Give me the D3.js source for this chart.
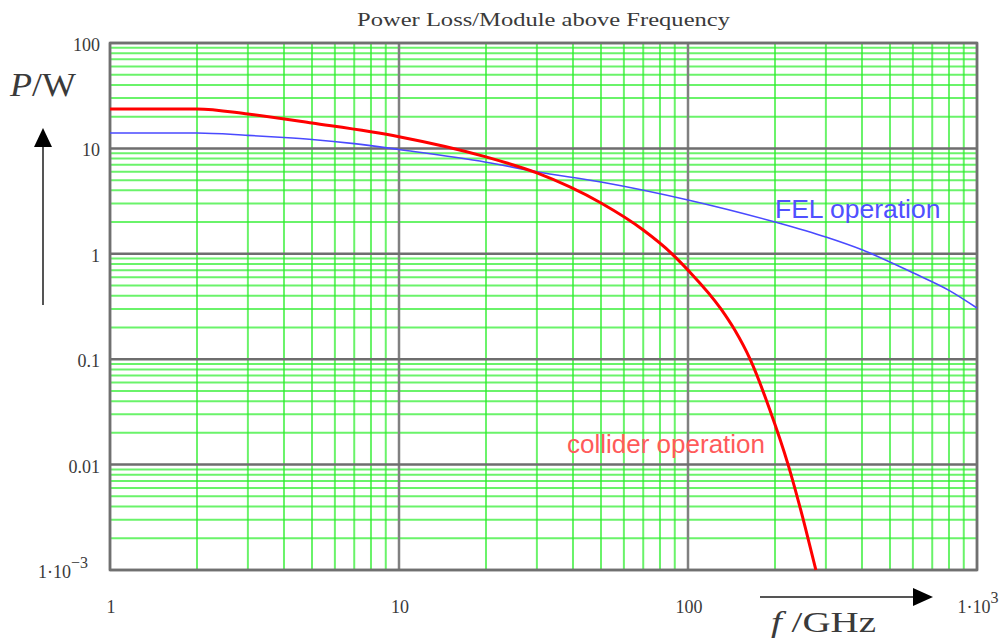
<!DOCTYPE html>
<html>
<head>
<meta charset="utf-8">
<script src="https://cdn.jsdelivr.net/npm/d3@7"></script>
<style>
	body { margin: 0; background: #fff; }
	svg { display: block; }
	.serif { font-family: 'Liberation Serif', 'DejaVu Serif', serif; fill: #3a3a3a; }
	.sans { font-family: 'Liberation Sans', Arial, sans-serif; }
</style>
</head>
<body>
<svg id="chart" width="1002" height="644"></svg>
<script>
//Data--------------------------------------------------------------------
var freqFel = [1, 2, 3, 4, 5, 7, 10, 20, 30, 50, 100, 200, 300, 400, 600, 800, 1000];
var powerFel = [14.0, 14.0, 13.3, 12.7, 12.15, 11.1, 9.75, 7.4, 6.0, 4.8, 3.24, 2.0, 1.44, 1.09, 0.66, 0.45, 0.306];

var freqCollider = [1, 2, 3, 5, 10, 20, 30, 50, 70, 88, 100, 130, 145, 164, 192, 222, 254, 277];
var powerCollider = [23.7, 23.7, 21.2, 17.4, 12.9, 8.3, 5.85, 3.03, 1.68, 1.0, 0.70, 0.30, 0.19, 0.1, 0.033, 0.01, 0.0026, 0.001];

var yTicks = [100, 10, 1, 0.1, 0.01, 0.001];
var yTickLabels = ['100', '10', '1', '0.1', '0.01', ['1\u00b710', '\u22123']];
var xTicks = [1, 10, 100, 1000];
var xTickLabels = ['1', '10', '100', ['1\u00b710', '3']];

//Layout------------------------------------------------------------------
var svg = d3.select('#chart');
var plotLeft = 110, plotRight = 977, plotTop = 43, plotBottom = 570;

var x = d3.scaleLog().domain([1, 1000]).range([plotLeft, plotRight]);
var y = d3.scaleLog().domain([0.001, 100]).range([plotBottom, plotTop]);

var grid = svg.append('g').classed('grid', true);

//minor green grid lines
grid.selectAll('line.vminor')
	.data(x.ticks().filter(function (d) { return xTicks.indexOf(d) < 0; }))
	.enter().append('line')
	.attr('x1', function (d) { return x(d); })
	.attr('x2', function (d) { return x(d); })
	.attr('y1', plotTop).attr('y2', plotBottom)
	.style('stroke', '#2bee2b').style('stroke-width', 2).style('stroke-opacity', 0.7);

grid.selectAll('line.hminor')
	.data(y.ticks().filter(function (d) {
		return !yTicks.some(function (t) { return Math.abs(t - d) / t < 1e-6; });
	}))
	.enter().append('line')
	.attr('x1', plotLeft).attr('x2', plotRight)
	.attr('y1', function (d) { return y(d); })
	.attr('y2', function (d) { return y(d); })
	.style('stroke', '#2bee2b').style('stroke-width', 2).style('stroke-opacity', 0.7);

//major gray lines
grid.selectAll('line.vmajor')
	.data(xTicks)
	.enter().append('line')
	.attr('x1', function (d) { return x(d); })
	.attr('x2', function (d) { return x(d); })
	.attr('y1', plotTop).attr('y2', plotBottom)
	.style('stroke', '#808080').style('stroke-width', 2.5);

grid.selectAll('line.hmajor')
	.data(yTicks)
	.enter().append('line')
	.attr('x1', plotLeft).attr('x2', plotRight)
	.attr('y1', function (d) { return y(d); })
	.attr('y2', function (d) { return y(d); })
	.style('stroke', '#6e6e6e').style('stroke-width', 2.5);

svg.append('rect')
	.attr('x', plotLeft).attr('y', plotTop)
	.attr('width', plotRight - plotLeft).attr('height', plotBottom - plotTop)
	.style('fill', 'none').style('stroke', '#707070').style('stroke-width', 2.5);

//curves
var line = d3.line()
	.x(function (d) { return x(d[0]); })
	.y(function (d) { return y(d[1]); })
	.curve(d3.curveMonotoneX);

svg.append('path')
	.datum(d3.zip(freqFel, powerFel))
	.attr('d', line)
	.style('fill', 'none').style('stroke', '#4a4aff').style('stroke-width', 1.6);

svg.append('path')
	.datum(d3.zip(freqCollider, powerCollider))
	.attr('d', line)
	.style('fill', 'none').style('stroke', '#ff0000').style('stroke-width', 3);

//tick labels
function label(sel, d) {
	if (typeof d === 'string') {
		sel.text(d);
	} else {
		sel.append('tspan').text(d[0]);
		sel.append('tspan').attr('dy', -10).style('font-size', '16px').text(d[1]);
	}
}

yTicks.forEach(function (t, i) {
	var lab = yTickLabels[i];
	var txt = svg.append('text').classed('serif', true)
		.attr('x', typeof lab === 'string' ? 100 : 88)
		.attr('y', y(t) + 8)
		.attr('text-anchor', 'end')
		.style('font-size', '18px');
	label(txt, lab);
});

xTicks.forEach(function (t, i) {
	var txt = svg.append('text').classed('serif', true)
		.attr('x', x(t) + 1).attr('y', 613)
		.attr('text-anchor', 'middle')
		.style('font-size', '18px');
	label(txt, xTickLabels[i]);
});

//title
svg.append('text').classed('serif', true)
	.attr('x', 357).attr('y', 26)
	.attr('textLength', 373).attr('lengthAdjust', 'spacingAndGlyphs')
	.style('font-size', '19px')
	.text('Power Loss/Module above Frequency');

//axis names with arrows
var pw = svg.append('text').classed('serif', true)
	.attr('x', 10).attr('y', 96)
	.attr('textLength', 66).attr('lengthAdjust', 'spacingAndGlyphs')
	.style('font-size', '34px');
pw.append('tspan').style('font-style', 'italic').text('P');
pw.append('tspan').text('/W');

var fg = svg.append('text').classed('serif', true)
	.attr('x', 771).attr('y', 632)
	.attr('textLength', 105).attr('lengthAdjust', 'spacingAndGlyphs')
	.style('font-size', '29px');
fg.append('tspan').style('font-style', 'italic').text('f');
fg.append('tspan').text(' /GHz');

svg.append('line')
	.attr('x1', 43).attr('y1', 305).attr('x2', 43).attr('y2', 142)
	.style('stroke', '#555').style('stroke-width', 2);
svg.append('polygon')
	.attr('points', [34, 147, 52, 147, 43, 128])
	.style('fill', '#000');

svg.append('line')
	.attr('x1', 760).attr('y1', 597).attr('x2', 918).attr('y2', 597)
	.style('stroke', '#555').style('stroke-width', 2);
svg.append('polygon')
	.attr('points', [913, 588, 913, 606, 933, 597])
	.style('fill', '#000');

//series labels
svg.append('text').classed('sans', true)
	.attr('x', 775).attr('y', 218)
	.style('font-size', '26.5px').style('fill', '#5050ff')
	.text('FEL operation');

svg.append('text').classed('sans', true)
	.attr('x', 567).attr('y', 453)
	.style('font-size', '26px').style('fill', '#ff5a5a')
	.text('collider operation');
</script>
</body>
</html>
